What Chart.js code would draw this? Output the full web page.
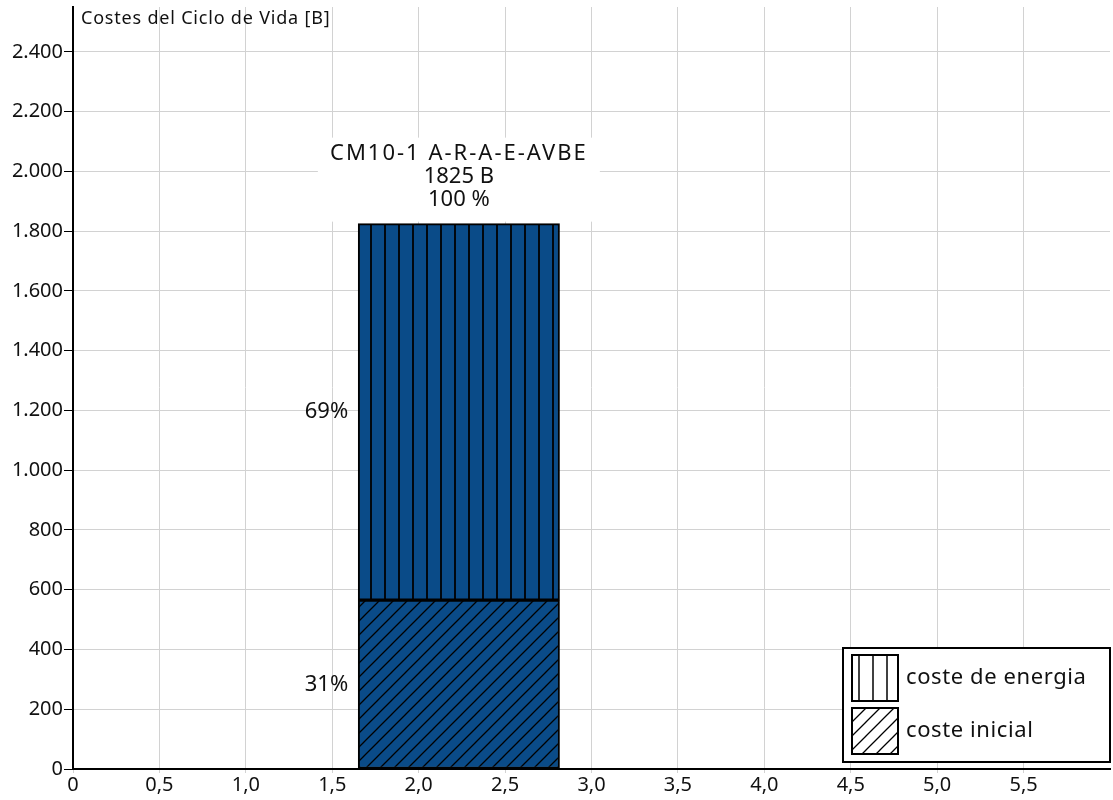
<!DOCTYPE html>
<html>
<head>
<meta charset="utf-8">
<script src="https://cdn.jsdelivr.net/npm/chart.js@4.4.1/dist/chart.umd.min.js"></script>
<style>
	html,body{margin:0;padding:0;background:#fff;}
</style>
</head>
<body>
<canvas id="mycanvas" width="1113" height="800"></canvas>
<script>
// data
var modelName=['CM10-1 A-R-A-E-AVBE'];
var barFrom=[1.65];
var barTo=[2.815];
var costeInicial=[565];
var costeEnergia=[1260];
var totalCost=[1825];
var totalPct=['100 %'];
var pctInicial=['31%'];
var pctEnergia=['69%'];
var legendLabels=['coste de energia','coste inicial'];
var xTicks=[0,0.5,1,1.5,2,2.5,3,3.5,4,4.5,5,5.5];
var yTicks=[0,200,400,600,800,1000,1200,1400,1600,1800,2000,2200,2400];

var FONT='"Noto Sans", sans-serif';
var BLUE='#0a4b88';

function makePattern(bg, kind, lw){
	var c=document.createElement('canvas');
	c.width=14; c.height=14;
	var g=c.getContext('2d');
	g.fillStyle=bg;
	g.fillRect(0,0,14,14);
	g.strokeStyle='#000';
	g.lineWidth=lw;
	g.beginPath();
	if(kind==='v'){
		g.moveTo(7,0); g.lineTo(7,14);
	}else{
		g.moveTo(-7,7); g.lineTo(7,-7);
		g.moveTo(0,14); g.lineTo(14,0);
		g.moveTo(7,21); g.lineTo(21,7);
	}
	g.stroke();
	return g.createPattern(c,'repeat');
}

var ctx=document.getElementById('mycanvas').getContext('2d');

var barX=[];
for(var i in barFrom){
	barX.push((barFrom[i]+barTo[i])/2);
}

var chartdata={
	datasets:[
		{
			label:legendLabels[1],
			data:[{x:barX[0],y:costeInicial[0]}],
			backgroundColor:makePattern(BLUE,'d',1.3),
			borderColor:'#000',
			borderWidth:2,
			borderSkipped:false,
			barThickness:100
		},
		{
			label:legendLabels[0],
			data:[{x:barX[0],y:costeEnergia[0]}],
			backgroundColor:makePattern(BLUE,'v',1.8),
			borderColor:'#000',
			borderWidth:2,
			borderSkipped:false,
			barThickness:100
		}
	]
};

var labelsPlugin={
	id:'labelsPlugin',
	afterDatasetsDraw:function(chart){
		var c=chart.ctx;
		var xs=chart.scales.x, ys=chart.scales.y;
		var cx=xs.getPixelForValue(barX[0]);
		var left=xs.getPixelForValue(barFrom[0]);
		var top=ys.getPixelForValue(totalCost[0]);
		var mid=ys.getPixelForValue(costeInicial[0]);
		var base=ys.getPixelForValue(0);
		c.save();
		// white box behind the bar title
		c.fillStyle='#fff';
		c.fillRect(cx-141,top-86,282,84);
		c.fillStyle='#111';
		c.font='22px '+FONT;
		c.textAlign='center';
		c.textBaseline='middle';
		c.letterSpacing='2px';
		c.fillText(modelName[0],cx,top-70);
		c.letterSpacing='0px';
		c.fillText(totalCost[0]+' B',cx,top-47);
		c.fillText(totalPct[0],cx,top-24);
		c.textAlign='right';
		c.fillText(pctEnergia[0],left-10,(top+mid)/2);
		c.fillText(pctInicial[0],left-10,(mid+base)/2);
		c.restore();
	},
	afterDraw:function(chart){
		var c=chart.ctx;
		var a=chart.chartArea;
		c.save();
		// axis title
		c.fillStyle='#111';
		c.font='18px '+FONT;
		c.textAlign='left';
		c.textBaseline='middle';
		c.letterSpacing='0.8px';
		c.fillText('Costes del Ciclo de Vida [B]',a.left+8,19);
		// legend
		var lx=843, ly=648, lw=a.right-843, lh=114;
		c.fillStyle='#fff';
		c.fillRect(lx,ly,lw,lh);
		c.strokeStyle='#000';
		c.lineWidth=2;
		c.strokeRect(lx,ly,lw,lh);
		var pats=[makePattern('#fff','v',1.5),makePattern('#fff','d',1.3)];
		c.font='22px '+FONT;
		c.letterSpacing='0.6px';
		for(var k=0;k<2;k++){
			var sy=ly+7+k*53;
			c.save();
			c.translate(852,sy);
			c.fillStyle=pats[k];
			c.fillRect(0,0,46,46);
			c.restore();
			c.strokeRect(852,sy,46,46);
			c.fillStyle='#111';
			c.fillText(legendLabels[k],906,sy+23);
		}
		c.restore();
	}
};

var barGraph=new Chart(ctx,{
	type:'bar',
	data:chartdata,
	plugins:[labelsPlugin],
	options:{
		responsive:false,
		animation:false,
		devicePixelRatio:1,
		layout:{padding:{top:7,right:3,left:0,bottom:0}},
		plugins:{legend:{display:false},tooltip:{enabled:false}},
		scales:{
			x:{
				type:'linear',
				min:0,
				max:6,
				stacked:true,
				offset:false,
				grid:{color:'#d2d2d2',tickColor:'#d2d2d2',tickLength:4,offset:false},
				border:{color:'#000',width:2},
				ticks:{
					color:'#111',
					font:{family:FONT,size:20},
					padding:0,
					maxRotation:0,
					callback:function(v){
						return v===0?'0':v.toFixed(1).replace('.',',');
					}
				},
				afterBuildTicks:function(s){
					s.ticks=xTicks.map(function(v){return {value:v};});
				},
				afterFit:function(s){s.height=31;s.paddingLeft=0;s.paddingRight=0;}
			},
			y:{
				min:0,
				max:2550,
				stacked:true,
				grid:{color:'#d2d2d2',tickColor:'#000',tickLength:9},
				border:{color:'#000',width:2},
				ticks:{
					color:'#111',
					font:{family:FONT,size:20},
					padding:1,
					callback:function(v){
						return v.toLocaleString('de-DE');
					}
				},
				afterBuildTicks:function(s){
					s.ticks=yTicks.map(function(v){return {value:v};});
				},
				afterFit:function(s){s.width=73;s.paddingTop=0;s.paddingBottom=0;}
			}
		}
	}
});

// make the bar span barFrom..barTo on the x scale
var xs=barGraph.scales.x;
var w=xs.getPixelForValue(barTo[0])-xs.getPixelForValue(barFrom[0]);
barGraph.data.datasets.forEach(function(d){d.barThickness=w;});
barGraph.update();
</script>
</body>
</html>
